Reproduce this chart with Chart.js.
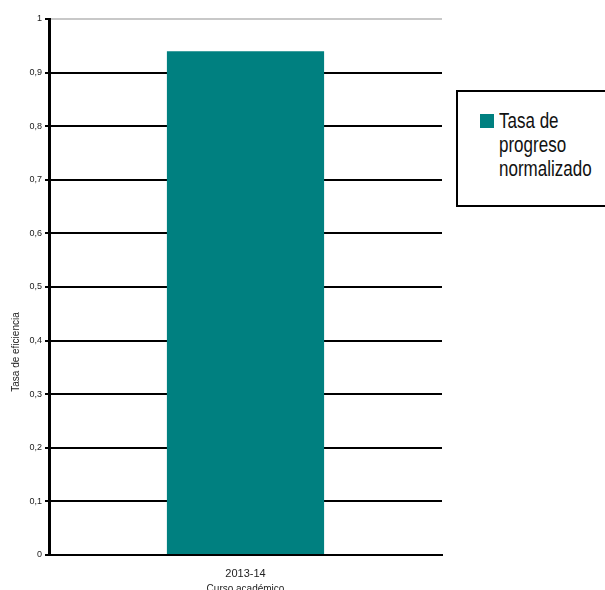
<!DOCTYPE html>
<html>
<head>
<meta charset="utf-8">
<script src="https://cdn.jsdelivr.net/npm/chart.js@4"></script>
<style>
    html, body { margin: 0; padding: 0; background: #fff; }
    #wrap { position: relative; width: 605px; height: 590px; overflow: hidden; }
    #legend {
        position: absolute; left: 456px; top: 90px; width: 160px; height: 113px;
        border: 2px solid #000; background: #fff;
        font-family: "Liberation Sans", Arial, sans-serif;
        font-size: 17px; line-height: 19px; color: #111;
    }
    #legend .sw { position: absolute; left: 22px; top: 22px; width: 14px; height: 14px; }
    #legend .tx {
        position: absolute; left: 41px; top: 17px; width: 110px;
        transform: scaleY(1.27); transform-origin: 0 0;
    }
</style>
</head>
<body>
<div id="wrap">
    <canvas id="c" width="605" height="590"></canvas>
    <div id="legend"></div>
</div>
<script>
(function () {
    // Single bar, y axis 0..1 with comma decimals.

    var categories = ['2013-14'];
    var seriesName = 'Tasa de progreso normalizado';
    var values = [0.94];
    var yTickLabels = ['0', '0,1', '0,2', '0,3', '0,4', '0,5', '0,6', '0,7', '0,8', '0,9', '1'];
    var yTitle = 'Tasa de eficiencia';
    var xTitle = 'Curso académico';

    var barColor = '#008080';
    var font = '"Liberation Sans", Arial, sans-serif';

    // legend as plain html, text wraps like the original box
    var legend = document.getElementById('legend');
    legend.innerHTML = '<div class="sw" style="background:' + barColor + '"></div>' +
        '<div class="tx">Tasa de<br>progreso<br>normalizado</div>';

    var yTitlePlugin = {
        id: 'yTitle',
        afterDraw: function (chart) {
            var ctx = chart.ctx;
            ctx.save();
            ctx.translate(16, 352);
            ctx.rotate(-Math.PI / 2);
            ctx.font = '10px ' + font;
            ctx.fillStyle = '#222';
            ctx.textAlign = 'center';
            ctx.textBaseline = 'middle';
            ctx.fillText(yTitle, 0, 0);
            ctx.restore();
        }
    };

    new Chart(document.getElementById('c'), {
        type: 'bar',
        data: {
            labels: categories,
            datasets: [{
                label: seriesName,
                data: values,
                backgroundColor: barColor,
                borderWidth: 0,
                categoryPercentage: 0.4,
                barPercentage: 1
            }]
        },
        options: {
            responsive: false,
            animation: false,
            layout: { padding: { top: 19, right: 163, left: 0, bottom: 0 } },
            plugins: {
                legend: { display: false },
                tooltip: { enabled: false }
            },
            scales: {
                x: {
                    grid: { display: false },
                    border: { color: '#000', width: 2 },
                    ticks: { color: '#222', font: { family: font, size: 11 }, padding: 4 },
                    title: {
                        display: true, text: xTitle, color: '#222',
                        font: { family: font, size: 10 }, padding: { top: 0, bottom: -5 }
                    },
                    afterFit: function (s) { s.height = 35; }
                },
                y: {
                    min: 0,
                    max: 1,
                    ticks: {
                        stepSize: 0.1,
                        color: '#222',
                        font: { family: font, size: 9 },
                        padding: 3,
                        callback: function (v, i) { return yTickLabels[i]; }
                    },
                    grid: {
                        color: function (c) { return c.tick && c.tick.value >= 1 ? '#c8c8c8' : '#000'; },
                        tickColor: '#000',
                        lineWidth: 2,
                        tickLength: 4
                    },
                    border: { color: '#000', width: 3 },
                    afterFit: function (s) { s.width = 49; }
                }
            }
        },
        plugins: [yTitlePlugin]
    });
})();
</script>
</body>
</html>
